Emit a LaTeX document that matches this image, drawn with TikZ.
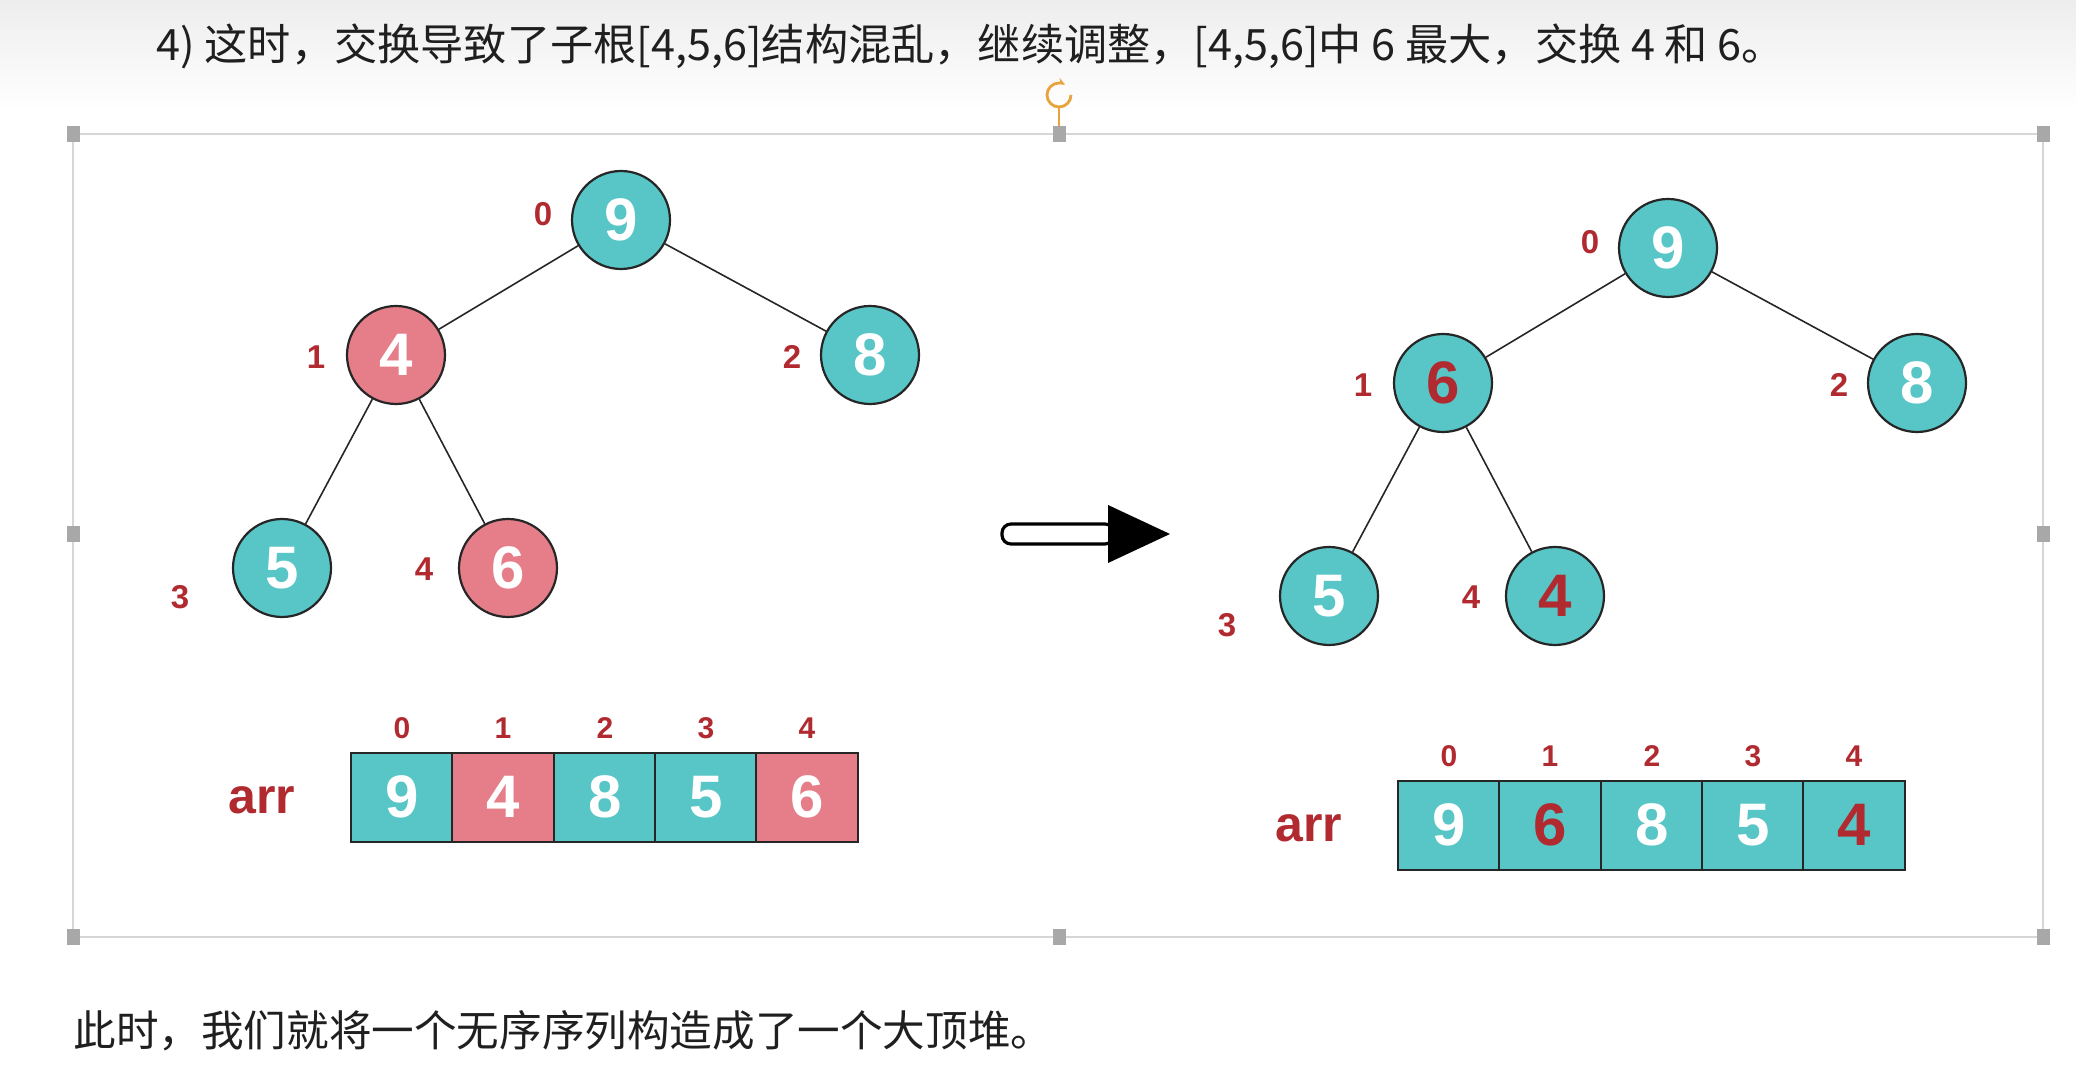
\documentclass[tikz,border=0pt]{standalone}
\usepackage{fontspec}
\setmainfont{Liberation Sans}
\newfontfamily\cjkfont{Noto Sans CJK SC}
\usepackage{tikz}
\usetikzlibrary{arrows.meta, shapes, positioning}
\definecolor{heapteal}{HTML}{58C5C6}
\definecolor{heappink}{HTML}{E67E8A}
\definecolor{idxred}{HTML}{B02A30}
\definecolor{framegray}{HTML}{D6D6D6}
\definecolor{handlegray}{HTML}{A8A8A8}
\definecolor{rotorange}{HTML}{E8A33C}
\tikzstyle{heap} = [circle, draw=black!85, line width=1.1pt, minimum size=49pt, inner sep=0,
                    font=\fontsize{30}{32}\selectfont\bfseries, text=white]
\tikzstyle{keep} = [heap, fill=heapteal]
\tikzstyle{swap} = [heap, fill=heappink]
\tikzstyle{moved} = [keep, text=idxred]
\tikzstyle{index} = [text=idxred, font=\fontsize{16.5}{17}\selectfont\bfseries]
\tikzstyle{slot} = [index, font=\fontsize{15}{16}\selectfont\bfseries]
\tikzstyle{cell} = [rectangle, draw=black!85, line width=1pt, minimum width=50.7pt, minimum height=44.5pt,
                    inner sep=0, font=\fontsize{30}{32}\selectfont\bfseries, text=white, fill=heapteal]
\tikzstyle{swapcell} = [cell, fill=heappink]
\tikzstyle{movedcell} = [cell, text=idxred]
\tikzstyle{edge} = [draw=black!85, line width=0.8pt]
\tikzstyle{handle} = [rectangle, fill=handlegray, minimum width=6.5pt, minimum height=8pt, inner sep=0]
\tikzstyle{prose} = [anchor=west, inner sep=0, text=black!88, font=\cjkfont\fontsize{21.3}{23}\selectfont]

\begin{document}
\begin{tikzpicture}[x=0.5pt, y=-0.5pt]
				\useasboundingbox (0, 0) rectangle (2076, 1068);
				\fill [top color=black!7, bottom color=white] (0, 0) rectangle (2076, 110);

				\node (Title) [prose, font=\cjkfont\fontsize{21.6}{23}\selectfont] at (156, 46) {4) 这时，交换导致了子根[4,5,6]结构混乱，继续调整，[4,5,6]中 6 最大，交换 4 和 6。};

				% selection frame
				\draw [framegray, line width=1pt] (73, 134) rectangle (2043, 937);
				\node (HandleNW) [handle] at (73, 134) {};
				\node (HandleN) [handle] at (1059, 134) {};
				\node (HandleNE) [handle] at (2043, 134) {};
				\node (HandleW) [handle] at (73, 534) {};
				\node (HandleE) [handle] at (2043, 534) {};
				\node (HandleSW) [handle] at (73, 937) {};
				\node (HandleS) [handle] at (1059, 937) {};
				\node (HandleSE) [handle] at (2043, 937) {};
				\coordinate (Rotate) at (1059, 108);
				\draw [rotorange, line width=0.8pt] (Rotate) -- (HandleN);
				\draw [rotorange, line width=1.4pt, -{Stealth[length=4pt]}] (1071, 95) arc (0:300:12);

				% heap before
				\node (L9) [keep] at (621, 220) {9};
				\node (L4) [swap] at (396, 355) {4};
				\node (L8) [keep] at (870, 355) {8};
				\node (L5) [keep] at (282, 568) {5};
				\node (L6) [swap] at (508, 568) {6};
				\draw [edge] (L9) -- (L4);
				\draw [edge] (L9) -- (L8);
				\draw [edge] (L4) -- (L5);
				\draw [edge] (L4) -- (L6);

				\node (LI0) [index] at (543, 214) {0};
				\node (LI1) [index] at (316, 357) {1};
				\node (LI2) [index] at (792, 357) {2};
				\node (LI3) [index] at (180, 597) {3};
				\node (LI4) [index] at (424, 569) {4};

				% array before
				\node (LArr) [text=idxred, font=\fontsize{25}{26}\selectfont\bfseries] at (262, 800) {arr};
				\node (LC0) [cell] at (402, 797) {9};
				\node (LC1) [swapcell] at (503, 797) {4};
				\node (LC2) [cell] at (605, 797) {8};
				\node (LC3) [cell] at (706, 797) {5};
				\node (LC4) [swapcell] at (807, 797) {6};
				\node (LS0) [slot] at (402, 728) {0};
				\node (LS1) [slot] at (503, 728) {1};
				\node (LS2) [slot] at (605, 728) {2};
				\node (LS3) [slot] at (706, 728) {3};
				\node (LS4) [slot] at (807, 728) {4};

				% the arrow
				\coordinate (ArrowTail) at (1002, 534);
				\coordinate (ArrowTip) at (1170, 534);
				\draw [black, line width=1.6pt, fill=white, rounded corners=4.5pt] (1002, 524) rectangle (1114, 544);
				\fill [black] (1108, 505) -- (ArrowTip) -- (1108, 563) -- cycle;

				% heap after
				\node (R9) [keep] at (1668, 248) {9};
				\node (R6) [moved] at (1443, 383) {6};
				\node (R8) [keep] at (1917, 383) {8};
				\node (R5) [keep] at (1329, 596) {5};
				\node (R4) [moved] at (1555, 596) {4};
				\draw [edge] (R9) -- (R6);
				\draw [edge] (R9) -- (R8);
				\draw [edge] (R6) -- (R5);
				\draw [edge] (R6) -- (R4);

				\node (RI0) [index] at (1590, 242) {0};
				\node (RI1) [index] at (1363, 385) {1};
				\node (RI2) [index] at (1839, 385) {2};
				\node (RI3) [index] at (1227, 625) {3};
				\node (RI4) [index] at (1471, 597) {4};

				% array after
				\node (RArr) [text=idxred, font=\fontsize{25}{26}\selectfont\bfseries] at (1309, 828) {arr};
				\node (RC0) [cell] at (1449, 825) {9};
				\node (RC1) [movedcell] at (1550, 825) {6};
				\node (RC2) [cell] at (1652, 825) {8};
				\node (RC3) [cell] at (1753, 825) {5};
				\node (RC4) [movedcell] at (1854, 825) {4};
				\node (RS0) [slot] at (1449, 756) {0};
				\node (RS1) [slot] at (1550, 756) {1};
				\node (RS2) [slot] at (1652, 756) {2};
				\node (RS3) [slot] at (1753, 756) {3};
				\node (RS4) [slot] at (1854, 756) {4};

				\node (Summary) [prose] at (73, 1031) {此时，我们就将一个无序序列构造成了一个大顶堆。};
			\end{tikzpicture}
\end{document}
